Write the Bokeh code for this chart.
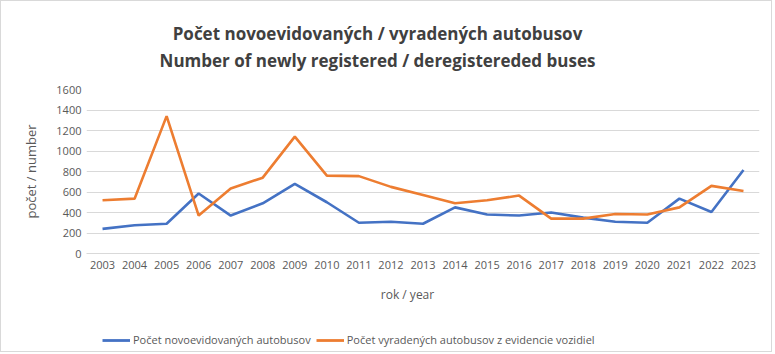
from bokeh.plotting import figure
from bokeh.models import Label, Legend, LegendItem, FactorRange, FixedTicker, ColumnDataSource, Range1d
from bokeh.layouts import column
from bokeh.embed import file_html
from bokeh.resources import INLINE

years = [str(y) for y in range(2003, 2024)]
new_buses = [240, 275, 290, 585, 370, 490, 680, 500, 300, 310, 290, 450, 380, 370, 400, 350, 310, 300, 535, 405, 815]
deregistered = [520, 535, 1340, 370, 635, 740, 1140, 760, 755, 650, 570, 490, 520, 565, 340, 340, 385, 380, 450, 660, 610]
y_ticks = [0, 200, 400, 600, 800, 1000, 1200, 1400, 1600]

title1 = "Počet novoevidovaných / vyradených autobusov"
title2 = "Number of newly registered / deregistereded buses"
series_names = ["Počet novoevidovaných autobusov", "Počet vyradených autobusov z evidencie vozidiel"]
x_title = "rok / year"
y_title = "počet / number"

FONT = "Open Sans"
TXT = "#595959"
BORDER = "1px solid #d9d9d9"
BLUE, ORANGE = "#4472C4", "#ED7D31"
W = 772
H_TOP, H_MAIN, H_BOT = 79, 198, 75
BL, BR = 85, 14  # left / right borders around the plotting frame


def blank(h):
    # pixel-for-pixel coordinates: x = canvas x, y = pixels from the bottom
    f = figure(width=W, height=h, x_range=Range1d(BL, W - BR), y_range=Range1d(0, h),
               x_axis_type=None, y_axis_type=None, output_backend="svg", toolbar_location=None,
               min_border_left=BL, min_border_right=BR, min_border_top=0, min_border_bottom=0,
               title=None)
    f.outline_line_color = None
    f.background_fill_color = "white"
    f.border_fill_color = "white"
    return f


# ---- titles
top = blank(H_TOP)
top.styles = {"border-top": BORDER, "border-left": BORDER, "border-right": BORDER}
top.add_layout(Label(x=376, y=H_TOP - 32, text=title1, text_font=FONT, text_font_size="17px",
                     text_font_style="bold", text_color="#404040", text_align="center",
                     text_baseline="middle"))
top.add_layout(Label(x=376, y=H_TOP - 59, text=title2, text_font=FONT, text_font_size="17px",
                     text_font_style="bold", text_color="#404040", text_align="center",
                     text_baseline="middle"))

# ---- main chart
p = figure(width=W, height=H_MAIN, x_range=FactorRange(*years, range_padding=0),
           y_range=(0, 1600), output_backend="svg", toolbar_location=None, title=None,
           min_border_left=BL, min_border_right=BR, min_border_top=10, min_border_bottom=24)
p.styles = {"border-left": BORDER, "border-right": BORDER}
p.outline_line_color = None
p.background_fill_color = "white"
p.border_fill_color = "white"

src = ColumnDataSource(dict(x=years, a=new_buses, b=deregistered))
p.line("x", "a", source=src, line_color=BLUE, line_width=2.6)
p.line("x", "b", source=src, line_color=ORANGE, line_width=2.6)

p.yaxis.ticker = FixedTicker(ticks=y_ticks)
p.ygrid.grid_line_color = "#d9d9d9"
p.ygrid.grid_line_width = 1
p.xgrid.grid_line_color = None
for ax in (p.xaxis[0], p.yaxis[0]):
    ax.axis_line_color = None
    ax.major_tick_line_color = None
    ax.minor_tick_line_color = None
    ax.major_tick_out = 0
    ax.major_label_text_font = FONT
    ax.major_label_text_font_size = "11px"
    ax.major_label_text_color = TXT
p.xaxis.axis_line_color = "#d9d9d9"
p.yaxis.major_label_standoff = 5
p.xaxis.major_label_standoff = 7

p.yaxis.axis_label = y_title
p.yaxis.axis_label_text_font = FONT
p.yaxis.axis_label_text_font_size = "13px"
p.yaxis.axis_label_text_font_style = "normal"
p.yaxis.axis_label_text_color = TXT
p.yaxis.axis_label_standoff = 13

# ---- x title and legend
bot = blank(H_BOT)
bot.styles = {"border-bottom": BORDER, "border-left": BORDER, "border-right": BORDER}
bot.add_layout(Label(x=406, y=H_BOT - 17, text=x_title, text_font=FONT, text_font_size="12px",
                     text_color=TXT, text_align="center", text_baseline="middle"))
# legend proxies: the same series, positioned outside this strip's visible area
idx = list(range(len(years)))
g1 = bot.line(x=idx, y=new_buses, line_color=BLUE, line_width=2.8)
g2 = bot.line(x=idx, y=deregistered, line_color=ORANGE, line_width=2.8)
legend = Legend(items=[LegendItem(label=series_names[0], renderers=[g1]),
                       LegendItem(label=series_names[1], renderers=[g2])],
                orientation="horizontal", location=(16, 5),
                label_text_font=FONT, label_text_font_size="11px", label_text_color=TXT,
                glyph_width=28, glyph_height=14, label_height=14, label_standoff=3, spacing=5,
                padding=0, margin=0, border_line_color=None, background_fill_alpha=0)
bot.add_layout(legend, "center")

layout = column(top, p, bot, spacing=0)
open("out.html", "w").write(file_html(layout, INLINE))
